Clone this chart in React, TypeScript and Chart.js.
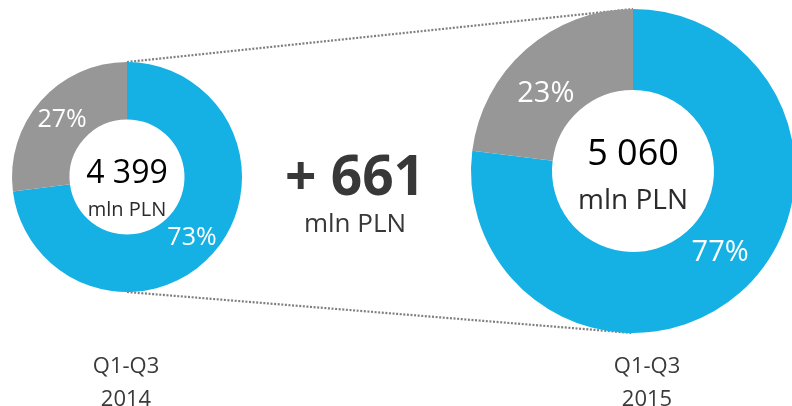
import React, { useEffect, useRef } from 'react';
import { Chart, registerables } from 'chart.js';

Chart.register(...registerables);

// ---- data ----
const shareLabels = ['Main', 'Other'];
const periodLabels = ['Q1-Q3', 'Q1-Q3'];
const yearLabels = ['2014', '2015'];
const totals = [4399, 5060];
const shares2014 = [73, 27];
const shares2015 = [77, 23];
const unit = 'mln PLN';

// ---- styles ----
const FONT = '"Open Sans", "Noto Sans", sans-serif';
const BLUE = '#15B1E4';
const GRAY = '#979797';

const fmt = (n: number) => String(n).replace(/\B(?=(\d{3})+(?!\d))/g, ' ');

type CenterStyle = {
  numSize: number;
  numDy: number;
  unitSize: number;
  unitDy: number;
  pctSize: number;
  angleShift: number;
  radiusScale: number;
};

function labelPlugin(values: number[], total: number, st: CenterStyle) {
  return {
    id: 'labels',
    afterDatasetsDraw(chart: any) {
      const ctx = chart.ctx;
      const meta = chart.getDatasetMeta(0);
      ctx.save();
      ctx.textAlign = 'center';
      ctx.textBaseline = 'alphabetic';
      ctx.fillStyle = '#ffffff';
      ctx.font = `${st.pctSize}px ${FONT}`;
      meta.data.forEach((arc: any, i: number) => {
        const mid = (arc.startAngle + arc.endAngle) / 2 + (st.angleShift * Math.PI) / 180;
        const r = ((arc.innerRadius + arc.outerRadius) / 2) * st.radiusScale;
        const px = arc.x + Math.cos(mid) * r;
        const py = arc.y + Math.sin(mid) * r;
        ctx.fillText(`${values[i]}%`, px, py + st.pctSize * 0.36);
      });
      const a: any = meta.data[0];
      ctx.fillStyle = '#000000';
      ctx.font = `${st.numSize}px ${FONT}`;
      ctx.fillText(fmt(total), a.x, a.y + st.numDy);
      ctx.fillStyle = '#2b2b2b';
      ctx.font = `${st.unitSize}px ${FONT}`;
      ctx.fillText(unit, a.x, a.y + st.unitDy);
      ctx.restore();
    },
  };
}

function makeConfig(values: number[], padding: any, plugins: any[]): any {
  return {
    type: 'doughnut',
    data: {
      labels: shareLabels,
      datasets: [
        {
          data: values,
          backgroundColor: [BLUE, GRAY],
          borderWidth: 0,
        },
      ],
    },
    options: {
      animation: false,
      responsive: true,
      maintainAspectRatio: false,
      cutout: '50%',
      events: [],
      layout: { padding },
      plugins: { legend: { display: false }, tooltip: { enabled: false } },
    },
    plugins,
  };
}

export default function App() {
  const leftRef = useRef<HTMLCanvasElement>(null);
  const rightRef = useRef<HTMLCanvasElement>(null);

  useEffect(() => {
    const left = new Chart(
      leftRef.current!,
      makeConfig(shares2014, { left: 12, top: 62, right: 550, bottom: 114 }, [
        labelPlugin(shares2014, totals[0], {
          numSize: 32,
          numDy: 6,
          unitSize: 20,
          unitDy: 39,
          pctSize: 25,
          angleShift: 1,
          radiusScale: 1.02,
        }),
      ])
    );
    const connector = {
      id: 'connector',
      beforeDatasetsDraw(chart: any) {
        const la: any = left.getDatasetMeta(0).data[0];
        const ra: any = chart.getDatasetMeta(0).data[0];
        if (!la || !ra) return;
        const ctx = chart.ctx;
        ctx.save();
        ctx.strokeStyle = '#7f7f7f';
        ctx.lineWidth = 2.2;
        ctx.setLineDash([2, 1.6]);
        ctx.beginPath();
        ctx.moveTo(la.x, la.y - la.outerRadius);
        ctx.lineTo(ra.x, ra.y - ra.outerRadius);
        ctx.moveTo(la.x, la.y + la.outerRadius);
        ctx.lineTo(ra.x, ra.y + ra.outerRadius);
        ctx.stroke();
        ctx.restore();
      },
    };
    const right = new Chart(
      rightRef.current!,
      makeConfig(shares2015, { left: 471, top: 9, right: 25, bottom: 73 }, [
        connector,
        labelPlugin(shares2015, totals[1], {
          numSize: 36,
          numDy: -6,
          unitSize: 28,
          unitDy: 38,
          pctSize: 29,
          angleShift: -6.3,
          radiusScale: 0.97,
        }),
      ])
    );
    return () => {
      left.destroy();
      right.destroy();
    };
  }, []);

  const diff = totals[1] - totals[0];

  const textBase: React.CSSProperties = {
    position: 'absolute',
    textAlign: 'center',
    whiteSpace: 'nowrap',
    fontFamily: FONT,
    lineHeight: 1,
  };

  return (
    <div
      style={{
        position: 'fixed',
        left: 0,
        top: 0,
        width: 792,
        height: 406,
        overflow: 'hidden',
        background: '#fff',
      }}
    >
      <div style={{ position: 'absolute', left: 0, top: 0, width: 820, height: 406 }}>
        <canvas ref={rightRef} />
      </div>
      <div style={{ position: 'absolute', left: 0, top: 0, width: 792, height: 406 }}>
        <canvas ref={leftRef} />
      </div>
      <div style={{ ...textBase, left: 255, width: 200, top: 146, fontSize: 55, fontWeight: 700, color: '#383838' }}>
        {`+ ${fmt(diff)}`}
      </div>
      <div style={{ ...textBase, left: 255, width: 200, top: 209, fontSize: 26, color: '#383838' }}>{unit}</div>
      {[126, 647].map((cx, i) => (
        <React.Fragment key={i}>
          <div style={{ ...textBase, left: cx - 60, width: 120, top: 353, fontSize: 22, color: '#3a3a3a' }}>
            {periodLabels[i]}
          </div>
          <div style={{ ...textBase, left: cx - 60, width: 120, top: 386, fontSize: 22, color: '#3a3a3a' }}>
            {yearLabels[i]}
          </div>
        </React.Fragment>
      ))}
    </div>
  );
}
